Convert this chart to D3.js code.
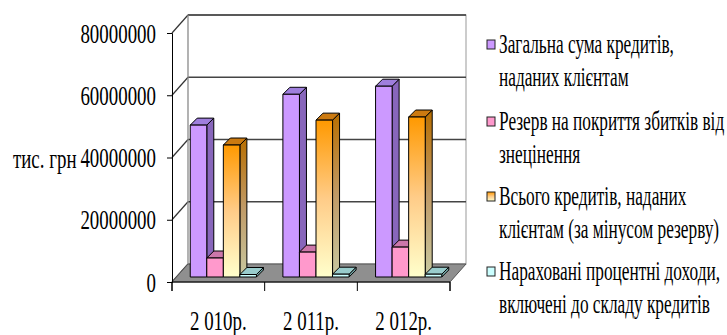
<!DOCTYPE html>
<html>
<head>
<meta charset="utf-8">
<script src="https://cdn.jsdelivr.net/npm/d3@7"></script>
<style>
  html, body { margin: 0; padding: 0; background: #fff; }
  svg { display: block; }
  text { font-family: "Liberation Serif", "Times New Roman", serif; fill: #000; }
</style>
</head>
<body>
<svg id="chart" width="727" height="335"></svg>
<script>
// Loans to customers, thousand UAH
const categories = ['2 010р.', '2 011р.', '2 012р.'];
const seriesNames = [
  ['Загальна сума кредитів,', 'наданих клієнтам'],
  ['Резерв на покриття збитків від', 'знецінення'],
  ['Всього кредитів, наданих', 'клієнтам (за мінусом резерву)'],
  ['Нараховані процентні доходи,', 'включені до складу кредитів']
];
const totalLoans      = [48800000, 58700000, 61300000];
const impairment      = [6100000, 8000000, 9600000];
const netLoans        = [42400000, 50400000, 51400000];
const accruedInterest = [800000, 900000, 900000];
const yTicks = [0, 20000000, 40000000, 60000000, 80000000];
const yTickLabels = ['0', '20000000', '40000000', '60000000', '80000000'];
const yAxisTitle = 'тис. грн';

const seriesValues = [totalLoans, impairment, netLoans, accruedInterest];

const svg = d3.select('#chart');
const defs = svg.append('defs');

// oblique 3D frame
const frontLeft = 172, frontRight = 450, frontBase = 282, frontTop = 33;
const wall = { dx: 16, dy: -18 };          // depth of floor / side wall
const barShift = { dx: 5, dy: -5 };         // bars stand a little behind front edge
const barDepth = { dx: 7, dy: -7 };

const y = d3.scaleLinear().domain([0, 80000000]).range([frontBase, frontTop]);
const x = d3.scaleBand().domain(categories).range([frontLeft, frontRight]).padding(0);
const xs = d3.scaleBand().domain(d3.range(4)).range([0, x.bandwidth()])
  .paddingInner(0).paddingOuter(0.8);

const faces = [
  { front: '#CC99FF', top: '#9F7FDD', side: '#8866BB' },
  { front: '#FF99CC', top: '#CC77AA', side: '#BB6699' },
  { front: 'url(#gOrange)', top: '#CC7A10', side: 'url(#gOrangeSide)' },
  { front: '#CCFFFF', top: '#99CCCC', side: '#77AAAA' }
];

function vGrad(id, stops) {
  const g = defs.append('linearGradient').attr('id', id)
    .attr('x1', 0).attr('y1', 0).attr('x2', 0).attr('y2', 1);
  stops.forEach(([o, c]) => g.append('stop').attr('offset', o).attr('stop-color', c));
}
vGrad('gOrange', [[0, '#FF9900'], [0.5, '#FFCC88'], [1, '#FFFFCC']]);
vGrad('gOrangeSide', [[0, '#B86E00'], [0.5, '#C09A66'], [1, '#C8C8A0']]);

const pts = a => a.map(p => p.join(',')).join(' ');

// back wall
const bwL = frontLeft + wall.dx, bwR = frontRight + wall.dx;
const yBack = v => y(v) + wall.dy;
svg.append('rect').attr('x', bwL).attr('y', yBack(80000000))
  .attr('width', bwR - bwL).attr('height', yBack(0) - yBack(80000000))
  .attr('fill', '#fff').attr('stroke', '#999').attr('stroke-width', 1);

// gridlines on back wall and side wall
yTicks.forEach(t => {
  if (t > 0) {
    svg.append('line').attr('x1', bwL).attr('x2', bwR)
      .attr('y1', yBack(t)).attr('y2', yBack(t))
      .attr('stroke', t === 80000000 ? '#333' : '#444').attr('stroke-width', t === 80000000 ? 1.6 : 1.4);
  }
  svg.append('line').attr('x1', frontLeft).attr('y1', y(t))
    .attr('x2', bwL).attr('y2', yBack(t))
    .attr('stroke', '#333').attr('stroke-width', 1.2);
});
svg.append('line').attr('x1', bwL).attr('x2', bwL)
  .attr('y1', yBack(80000000)).attr('y2', yBack(0)).attr('stroke', '#999');

// floor
svg.append('polygon')
  .attr('points', pts([[frontLeft, y(0)], [frontRight, y(0)],
    [frontRight + wall.dx, y(0) + wall.dy], [frontLeft + wall.dx, y(0) + wall.dy]]))
  .attr('fill', '#8F8F8F').attr('stroke', '#555').attr('stroke-width', 1);

// bars
categories.forEach((c, ci) => {
  seriesValues.forEach((vals, si) => {
    const xl = x(c) + xs(si) + barShift.dx;
    const w = xs.bandwidth();
    const yb = y(0) + barShift.dy;
    const yt = y(vals[ci]) + barShift.dy;
    const f = faces[si];
    const g = svg.append('g').attr('stroke', '#000').attr('stroke-width', 1).attr('stroke-linejoin', 'round');
    g.append('polygon').attr('fill', f.side)
      .attr('points', pts([[xl + w, yt], [xl + w + barDepth.dx, yt + barDepth.dy],
        [xl + w + barDepth.dx, yb + barDepth.dy], [xl + w, yb]]));
    g.append('polygon').attr('fill', f.top)
      .attr('points', pts([[xl, yt], [xl + w, yt],
        [xl + w + barDepth.dx, yt + barDepth.dy], [xl + barDepth.dx, yt + barDepth.dy]]));
    g.append('rect').attr('x', xl).attr('y', yt).attr('width', w)
      .attr('height', Math.max(yb - yt, 0.5)).attr('fill', f.front);
  });
});

// value axis on the front edge
const yAxis = d3.axisLeft(y).tickValues(yTicks).tickSize(5).tickFormat('');
svg.append('g').attr('transform', `translate(${frontLeft},0)`).call(yAxis)
  .call(g => g.select('.domain').attr('stroke', '#000'))
  .call(g => g.selectAll('.tick line').attr('stroke', '#000'));

const fs = 27;
function label(txt, px, py, anchor, sx) {
  return svg.append('text')
    .attr('transform', `translate(${px},${py}) scale(${sx},1)`)
    .attr('text-anchor', anchor).attr('font-size', fs).text(txt);
}
yTicks.forEach((t, i) => label(yTickLabels[i], 156, y(t) + 9.5, 'end', 0.7));
label(yAxisTitle, 13, y(40000000) + 10, 'start', 0.7);

// category axis
const xAxis = d3.axisBottom(x).tickSize(9).tickFormat('');
const xg = svg.append('g').attr('transform', `translate(0,${frontBase})`).call(xAxis);
xg.select('.domain').attr('stroke', '#000').attr('d', `M${frontLeft},9V0H${frontRight}V9`);
xg.selectAll('.tick').remove();
[frontLeft, ...categories.map(c => x(c) + x.bandwidth())].forEach(px =>
  xg.append('line').attr('x1', px).attr('x2', px).attr('y1', 0).attr('y2', 9).attr('stroke', '#000'));
categories.forEach(c => label(c, x(c) + x.bandwidth() / 2, 330, 'middle', 0.7));

// legend
const legendColors = ['#CC99FF', '#FF99CC', 'url(#gOrange)', '#CCFFFF'];
const legendBase = [53, 130, 205, 280];
const lineGap = 33;
seriesNames.forEach((lines, i) => {
  svg.append('rect').attr('x', 487).attr('y', legendBase[i] - 13)
    .attr('width', 8).attr('height', 9)
    .attr('fill', legendColors[i]).attr('stroke', '#222').attr('stroke-width', 1);
  lines.forEach((ln, j) => label(ln, 499, legendBase[i] + j * lineGap, 'start', 0.64));
});
</script>
</body>
</html>
